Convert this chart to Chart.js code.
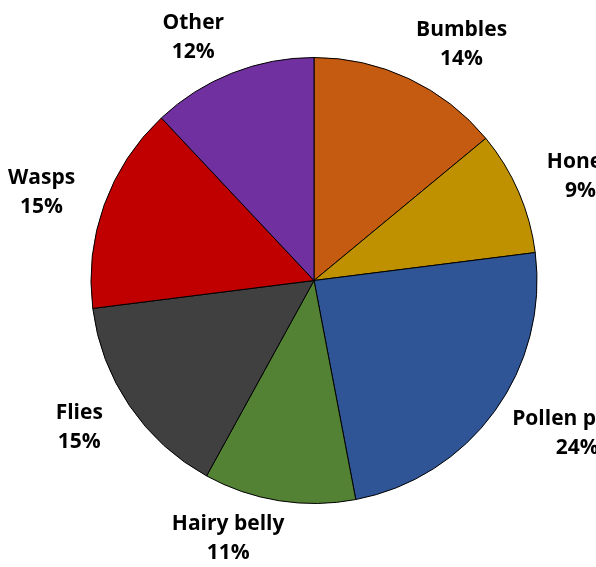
<!DOCTYPE html>
<html>
<head>
<meta charset="utf-8">
<script src="https://cdn.jsdelivr.net/npm/chart.js@4"></script>
<style>
  html, body { margin: 0; padding: 0; background: #fff; }
  #wrap { width: 596px; height: 567px; position: relative; overflow: hidden; }
</style>
</head>
<body>
<div id="wrap"><canvas id="my-chart"></canvas></div>
<script>
'use strict';

// ******** DATA ********
let groupNames = ['Bumbles', 'Honey', 'Pollen pants', 'Hairy belly', 'Flies', 'Wasps', 'Other'];
let groupShares = [14, 9, 24, 11, 15, 15, 12];
let groupColors = ['#C55A11', '#BF9000', '#2F5597', '#548235', '#404040', '#C00000', '#7030A0'];

// ******** LABEL PLUGIN (name + percent outside each slice) ********
// anchor on a ring outside the rim, then nudge sideways by part of the text width
let outsideLabels = {
  id: 'outsideLabels',
  afterDatasetsDraw(chart) {
    let ctx = chart.ctx;
    let meta = chart.getDatasetMeta(0);
    let total = groupShares.reduce((a, b) => a + b, 0);
    let lineGap = 29;
    ctx.save();
    ctx.font = 'bold 21px "Open Sans", sans-serif';
    ctx.fillStyle = '#000';
    ctx.textAlign = 'center';
    ctx.textBaseline = 'middle';
    meta.data.forEach((arc, i) => {
      let mid = (arc.startAngle + arc.endAngle) / 2;
      let cos = Math.cos(mid);
      let sin = Math.sin(mid);
      let dist = arc.outerRadius + 38;
      let boxW = ctx.measureText(groupNames[i]).width;
      let x = arc.x + cos * dist + Math.sign(cos) * boxW * 0.4;
      let y = arc.y + sin * dist;
      let pct = Math.round(groupShares[i] / total * 100) + '%';
      ctx.fillText(groupNames[i], x, y - lineGap / 2);
      ctx.fillText(pct, x, y + lineGap / 2);
    });
    ctx.restore();
  }
};

let canvasElem = document.getElementById('my-chart');

new Chart(canvasElem, {
  type: 'pie',
  data: {
    labels: groupNames,
    datasets: [{
      data: groupShares,
      backgroundColor: groupColors,
      borderColor: '#000',
      borderWidth: 1
    }]
  },
  options: {
    responsive: true,
    maintainAspectRatio: false,
    animation: false,
    layout: { padding: { left: 90, right: 58, top: 57, bottom: 63 } },
    plugins: {
      legend: { display: false },
      tooltip: { enabled: false }
    }
  },
  plugins: [outsideLabels]
});
</script>
</body>
</html>
